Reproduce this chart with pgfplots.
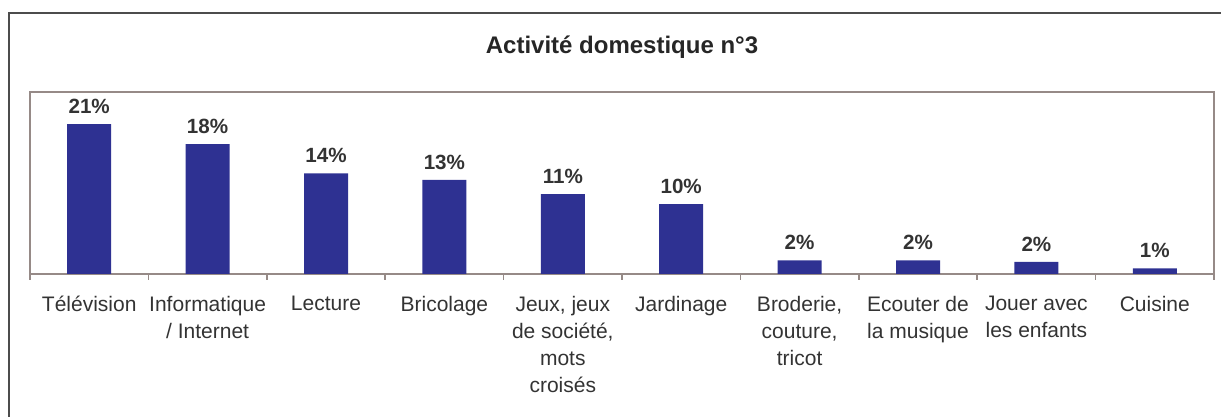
\documentclass[border=0pt]{standalone}
\usepackage{fontspec}
\setmainfont{Liberation Sans}
\usepackage{pgfplots}
\pgfplotsset{compat=1.18}
\definecolor{barblue}{HTML}{2E3192}
\definecolor{frame}{HTML}{968A87}
\definecolor{txt}{HTML}{333333}

\begin{document}
\begin{tikzpicture}[x=1pt,y=1pt]
% page = 1221 x 417 px at 0.5pt per px
\useasboundingbox (0,0) rectangle (610.5,208.5);
\draw[black!70, line width=0.7pt] (4.5,-1) -- (4.5,202) -- (612,202);
\begin{axis}[
    at={(15pt,71.5pt)}, anchor=south west,
    scale only axis,
    width=592pt, height=91pt,
    ybar, bar width=22pt,
    xmin=-0.5, xmax=9.5,
    ymin=0, ymax=25.5,
    enlargelimits=false,
    clip=false,
    axis line style={frame, line width=1pt},
    ytick=\empty,
    xtick={0,...,9},
    major x tick style={draw=none},
    minor xtick={-0.5,0.5,...,9.5},
    minor x tick style={frame, line width=0.8pt},
    minor tick length=2.8pt,
    tick align=outside,
    xtick pos=bottom,
    xticklabels={
        Télévision,
        {Informatique\\/ Internet},
        Lecture,
        Bricolage,
        {Jeux, jeux\\de société,\\mots\\croisés},
        Jardinage,
        {Broderie,\\couture,\\tricot},
        {Ecouter de\\la musique},
        {Jouer avec\\les enfants},
        Cuisine},
    xticklabel style={align=center, text=txt,
        font=\fontsize{10.5}{13.5}\selectfont, inner sep=0pt, yshift=-6.5pt},
    title={Activité domestique n°3},
    title style={at={(0.5,1)}, anchor=base, yshift=13pt,
        font=\fontsize{12}{14}\selectfont\bfseries, text=black!85},
    /pgf/number format/assume math mode=true,
    nodes near coords={\pgfmathprintnumber[fixed,precision=0]{\pgfplotspointmeta}\%},
    every node near coord/.append style={font=\fontsize{10.3}{12}\selectfont\bfseries,
        text=txt, inner sep=0pt, anchor=south, yshift=5pt},
]
\addplot[fill=barblue, draw=none] coordinates {
    (0,21.0) (1,18.2) (2,14.1) (3,13.2) (4,11.2)
    (5,9.8) (6,1.9) (7,1.9) (8,1.7) (9,0.8)};
\end{axis}
\end{tikzpicture}
\end{document}
